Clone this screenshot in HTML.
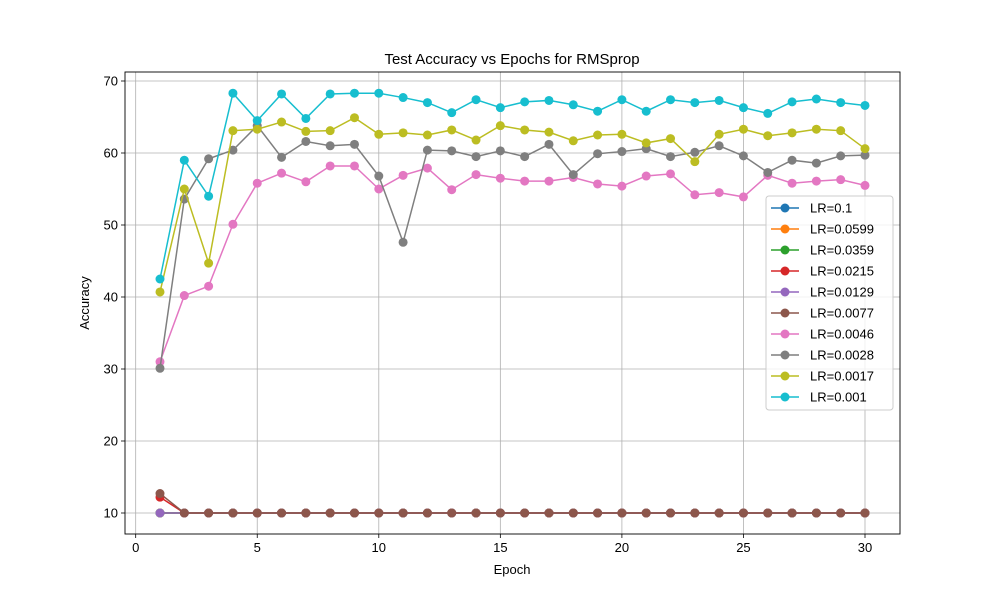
<!DOCTYPE html>
<html><head><meta charset="utf-8"><style>
body{margin:0;background:#fff}
svg text{font-family:"Liberation Sans","DejaVu Sans",sans-serif}
</style></head><body>
<svg id="chart" width="1000" height="600" xmlns="http://www.w3.org/2000/svg">
<rect width="1000" height="600" fill="#fff"/>
<g id="grid"></g><g id="series"></g><g id="axes"></g><g id="legend"></g>
</svg>
<script>
const epochs=[...Array(30)].map((_,i)=>i+1);
const labels=["LR=0.1","LR=0.0599","LR=0.0359","LR=0.0215","LR=0.0129","LR=0.0077","LR=0.0046","LR=0.0028","LR=0.0017","LR=0.001"];
const colors=["#1f77b4","#ff7f0e","#2ca02c","#d62728","#9467bd","#8c564b","#e377c2","#7f7f7f","#bcbd22","#17becf"];
const flat=Array(29).fill(10);
const lr01=[10,...flat];
const lr0599=[10,...flat];
const lr0359=[10,...flat];
const lr0215=[12.2,...flat];
const lr0129=[10,...flat];
const lr0077=[12.7,...flat];
const lr0046=[31,40.2,41.5,50.1,55.8,57.2,56,58.2,58.2,55,56.9,57.9,54.9,57,56.5,56.1,56.1,56.6,55.7,55.4,56.8,57.1,54.2,54.5,53.9,56.9,55.8,56.1,56.3,55.5];
const lr0028=[30.1,53.6,59.2,60.4,63.8,59.4,61.6,61,61.2,56.8,47.6,60.4,60.3,59.5,60.3,59.5,61.2,57,59.9,60.2,60.6,59.5,60.1,61,59.6,57.3,59,58.6,59.6,59.7];
const lr0017=[40.7,55,44.7,63.1,63.3,64.3,63,63.1,64.9,62.6,62.8,62.5,63.2,61.8,63.8,63.2,62.9,61.7,62.5,62.6,61.4,62,58.8,62.6,63.3,62.4,62.8,63.3,63.1,60.6];
const lr001=[42.5,59,54,68.3,64.5,68.2,64.8,68.2,68.3,68.3,67.7,67,65.6,67.4,66.3,67.1,67.3,66.7,65.8,67.4,65.8,67.4,67,67.3,66.3,65.5,67.1,67.5,67,66.6];
const xTicks=[0,5,10,15,20,25,30];
const yTicks=[10,20,30,40,50,60,70];
const series=[lr01,lr0599,lr0359,lr0215,lr0129,lr0077,lr0046,lr0028,lr0017,lr001];

const NS="http://www.w3.org/2000/svg";
const L=125,R=900,T=72,B=534;
const xs=v=>160+(v-1)*(865-160)/29;
const ys=v=>513-(v-10)*7.2;
function mk(tag,attrs,parent){const e=document.createElementNS(NS,tag);for(const k in attrs)e.setAttribute(k,attrs[k]);parent.appendChild(e);return e;}
const grid=document.getElementById('grid'),axes=document.getElementById('axes'),sg=document.getElementById('series'),lg=document.getElementById('legend');
xTicks.forEach(t=>{
 const g=mk('line',{x1:xs(t),x2:xs(t),y1:T,y2:B,stroke:'#b0b0b0','stroke-width':0.8},grid);
 
 
 mk('line',{x1:xs(t),x2:xs(t),y1:B,y2:B+4,stroke:'#000','stroke-width':0.8},axes);
 const tx=mk('text',{x:xs(t),y:B+18,'text-anchor':'middle','font-size':13},axes);tx.textContent=t;
 
 
});
yTicks.forEach(t=>{
 const g=mk('line',{x1:L,x2:R,y1:ys(t),y2:ys(t),stroke:'#b0b0b0','stroke-width':0.8},grid);
 
 
 mk('line',{x1:L-4,x2:L,y1:ys(t),y2:ys(t),stroke:'#000','stroke-width':0.8},axes);
 const tx=mk('text',{x:L-7,y:ys(t)+4.5,'text-anchor':'end','font-size':13},axes);tx.textContent=t;
 
 
});
const fr=mk('rect',{x:L,y:T,width:R-L,height:B-T,fill:'none',stroke:'#000','stroke-width':0.9},axes);


const ttl=mk('text',{x:512,y:64,'text-anchor':'middle','font-size':15},axes);ttl.textContent='Test Accuracy vs Epochs for RMSprop';


const xl=mk('text',{x:512,y:574,'text-anchor':'middle','font-size':13},axes);xl.textContent='Epoch';


const yl=mk('text',{x:89,y:303,'text-anchor':'middle','font-size':13,transform:'rotate(-90 89 303)'},axes);yl.textContent='Accuracy';


series.forEach((d,i)=>{
 const g=mk('g',{},sg);
 
 
 mk('polyline',{points:d.map((v,j)=>xs(epochs[j])+','+ys(v)).join(' '),fill:'none',stroke:colors[i],'stroke-width':1.5},g);
 d.forEach((v,j)=>{
  const c=mk('circle',{cx:xs(epochs[j]),cy:ys(v),r:4.5,fill:colors[i]},g);
  
  
 });
});
const lb=mk('rect',{x:766,y:196,width:127,height:214,rx:3,fill:'#fff','fill-opacity':0.8,stroke:'#ccc'},lg);


labels.forEach((l,i)=>{
 const y=208+i*21;
 const g=mk('g',{},lg);
 
 
 mk('line',{x1:771,x2:799,y1:y,y2:y,stroke:colors[i],'stroke-width':1.5},g);
 mk('circle',{cx:785,cy:y,r:4.5,fill:colors[i]},g);
 const t=mk('text',{x:810,y:y+4.5,'font-size':13},g);t.textContent=l;
});
</script>
</body></html>
